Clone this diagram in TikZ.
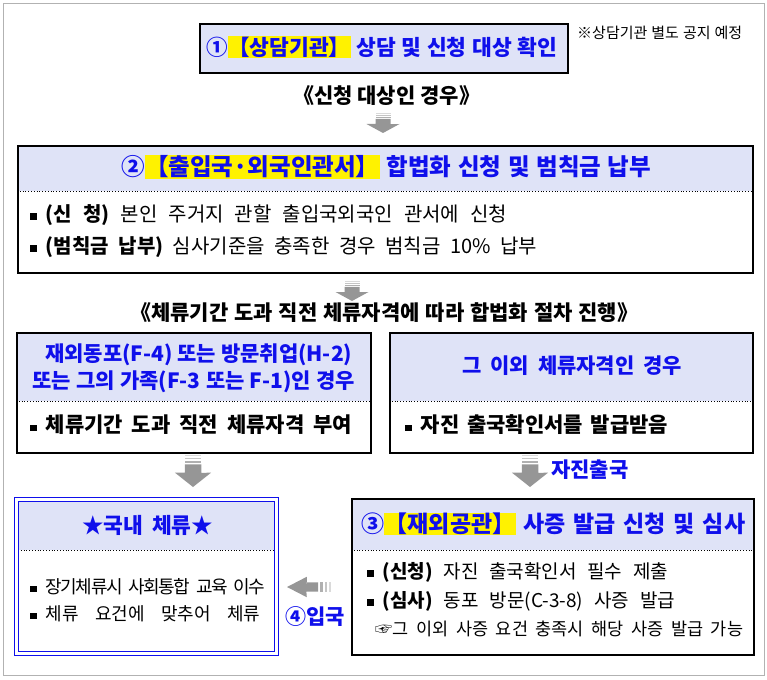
\documentclass[tikz,border=0pt]{standalone}
\usepackage{fontspec}
\setmainfont{Noto Sans CJK KR}[WordSpace=1.5]
\usetikzlibrary{calc}
\definecolor{hfill}{RGB}{223,227,247}
\definecolor{hblue}{RGB}{15,15,235}
\definecolor{agray}{RGB}{150,150,150}
\newcommand{\bul}{\raisebox{1.5pt}{\rule{6.5pt}{6.5pt}}\hspace{9pt}}
\newcommand{\hl}[1]{{\setlength{\fboxsep}{0.5pt}\colorbox{yellow}{#1}}}
\newcommand{\jt}[2]{\makebox[#1pt][s]{#2}}
\hbadness=10000 \hfuzz=50pt
\tikzset{
  frame/.style={draw=black, line width=2.4pt, anchor=north west, inner sep=0pt},
  jl/.style={anchor=west, inner sep=0pt},
  hdr/.style={jl, font=\fontsize{#1}{22}\selectfont\bfseries, text=hblue},
  hdr/.default=21,
  mid/.style={jl, font=\fontsize{21}{22}\selectfont\bfseries, text=black},
  body/.style={jl, font=\fontsize{#1}{20}\selectfont},
  body/.default=20,
  bodyb/.style={jl, font=\fontsize{#1}{20}\selectfont\bfseries},
  bodyb/.default=21,
  note/.style={jl, font=\fontsize{15}{16}\selectfont},
  lab/.style={font=\fontsize{21}{22}\selectfont\bfseries, text=hblue, inner sep=0pt},
  sep/.style={black, dotted, line width=0.8pt},
  darrow/.pic={
    \fill[agray!35] (-7.5,0) rectangle (7.5,0.9);
    \fill[agray!55] (-7.5,1.9) rectangle (7.5,2.8);
    \fill[agray!75] (-7.5,3.8) rectangle (7.5,4.9);
    \fill[agray] (-7.5,5.8) rectangle (7.5,11.2) -- (16.5,11) -- (0,20) -- (-16.5,11) -- (-7.5,11) -- cycle;
  }
}
\begin{document}
\begin{tikzpicture}[x=1pt,y=-1pt]
\useasboundingbox (0,0) rectangle (767,679);
\draw[gray!60, line width=0.6pt] (3,3) rectangle (764,675);

% box 1
\node[frame, fill=hfill, minimum width=368, minimum height=49] (b1) at (199,23) {};
\node[hdr=21.5] (t1) at (206,47) {\jt{351}{①\hl{【상담기관】} 상담 및 신청 대상 확인}};
\node[note] (n1) at (577,33) {\jt{165}{※상담기관 별도 공지 예정}};
\node[mid] (m1) at (293,96) {\jt{177}{《신청 대상인 경우》}};
\pic at (383,113) {darrow};

% box 2
\fill[hfill] (17,145) rectangle (752,191);
\draw[sep] (17,191) -- (752,191);
\node[frame, minimum width=735, minimum height=127] (b2) at (17,145) {};
\node[hdr=23.5] (t2) at (121,167) {\jt{530}{②\hl{【출입국·외국인관서】} 합법화 신청 및 범칙금 납부}};
\node[body] (l21) at (30,215) {\jt{477}{\bul\textbf{(신 청)} 본인 주거지 관할 출입국외국인 관서에 신청}};
\node[body] (l22) at (30,247) {\jt{507}{\bul\textbf{(범칙금 납부)} 심사기준을 충족한 경우 범칙금 10\% 납부}};
\pic at (352,281) {darrow};
\node[mid] (m2) at (130,313) {\jt{508}{《체류기간 도과 직전 체류자격에 따라 합법화 절차 진행》}};

% box 3 left
\fill[hfill] (16,332) rectangle (370,401);
\draw[sep] (16,401) -- (370,401);
\node[frame, minimum width=354, minimum height=120] (b3l) at (16,332) {};
\node[hdr] (t3la) at (45,355) {\jt{295}{재외동포(F-4) 또는 방문취업(H-2)}};
\node[hdr] (t3lb) at (32,382) {\jt{323}{또는 그의 가족(F-3 또는 F-1)인 경우}};
\node[bodyb] (l3l) at (30,425) {\jt{322}{\bul 체류기간 도과 직전 체류자격 부여}};

% box 3 right
\fill[hfill] (389,332) rectangle (752,401);
\draw[sep] (389,401) -- (752,401);
\node[frame, minimum width=363, minimum height=120] (b3r) at (389,332) {};
\node[hdr] (t3r) at (462,366) {\jt{220}{그 이외 체류자격인 경우}};
\node[bodyb] (l3r) at (405,425) {\jt{263}{\bul 자진 출국확인서를 발급받음}};

\pic[xscale=1.1, yscale=1.6] at (193,455) {darrow};
\pic[xscale=1.1, yscale=1.6] at (530,455) {darrow};
\node[lab, anchor=west] (jj) at (551,470) {자진출국};

% box 4
\fill[hfill] (18,501) rectangle (274,550);
\draw[sep] (18,550) -- (274,550);
\node[draw=hblue, line width=1.3pt, anchor=north west, minimum width=264, minimum height=158, inner sep=0pt] (b4o) at (14,497) {};
\node[draw=hblue, line width=1.3pt, anchor=north west, minimum width=256, minimum height=150, inner sep=0pt] (b4) at (18,501) {};
\node[hdr=21.5] (t4) at (82,525) {\jt{131}{★국내 체류★}};
\node[body=18] (l41) at (30,587) {\addfontfeature{LetterSpace=-8}\jt{235}{\bul 장기체류시 사회통합 교육 이수}};
\node[body=18] (l42) at (30,614) {\jt{230}{\bul 체류 요건에 맞추어 체류}};

% box 5
\fill[hfill] (351,498) rectangle (753,550);
\draw[sep] (351,550) -- (753,550);
\node[frame, minimum width=402, minimum height=156] (b5) at (351,498) {};
\node[hdr=23] (t5) at (361,524) {\jt{384}{③\hl{【재외공관】} 사증 발급 신청 및 심사}};
\node[body=19] (l51) at (367,572) {\jt{301}{\bul\textbf{(신청)} 자진 출국확인서 필수 제출}};
\node[body=19] (l52) at (367,601) {\jt{308}{\bul\textbf{(심사)} 동포 방문(C-3-8) 사증 발급}};
\node[body=17.5] (l53) at (375,629) {\jt{368}{☞그 이외 사증 요건 충족시 해당 사증 발급 가능}};

% entry arrow
\pic[rotate=-90, xscale=0.62, yscale=2.2] at (331,587) {darrow};
\node[lab] (ip) at (315,617) {④입국};
\end{tikzpicture}
\end{document}
